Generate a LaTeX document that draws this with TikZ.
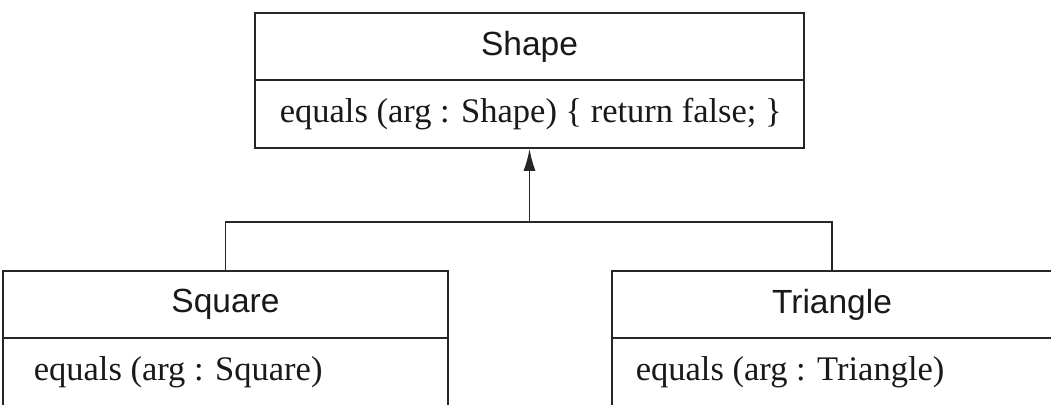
\documentclass[tikz,border=0pt]{standalone}
\usepackage{fontspec}
\setmainfont{Liberation Serif}
\setsansfont{Liberation Sans}
\usetikzlibrary{arrows.meta,positioning}
\begin{document}
\begin{tikzpicture}[x=1pt,y=-1pt,
  line width=1.6pt, draw=black!85,
  classhead/.style={draw=black!85, line width=1.6pt, rectangle, inner sep=0pt,
    font=\sffamily\fontsize{33.5}{36}\selectfont, text=black!90},
  classbody/.style={draw=black!85, line width=1.6pt, rectangle, inner sep=0pt,
    font=\rmfamily\fontsize{34.5}{38}\selectfont, text=black!90},
  methodtext/.style={anchor=west, inner sep=0pt,
    font=\rmfamily\fontsize{34.5}{38}\selectfont, text=black!90},
  inherit/.style={draw=black!85, line width=1.6pt, -{Latex[length=22pt,width=12pt]}},
  link/.style={draw=black!85, line width=1.6pt}]
\useasboundingbox (0,0) rectangle (1051,404);
\clip (0,0) rectangle (1051,404);
\fill[white] (0,0) rectangle (1051,404);
% Shape class
\node[classhead, minimum width=549pt, minimum height=67pt] (shape) at (529.5,46.5) {Shape};
\node[classbody, minimum width=549pt, minimum height=68pt] (shapebody) at (529.5,114) {};
\node[methodtext] (shapeop) at (279,114) {equals (arg : Shape) \{ return false; \}};
% Square class
\node[classhead, minimum width=445pt, minimum height=67pt] (square) at (225.5,304.5) {Square};
\node[classbody, minimum width=445pt, minimum height=68pt] (squarebody) at (225.5,372) {};
\node[methodtext] (squareop) at (33,372) {equals (arg : Square)};
% Triangle class
\node[classhead, minimum width=440pt, minimum height=67pt] (triangle) at (832,304.5) {Triangle};
\node[classbody, minimum width=440pt, minimum height=68pt] (trianglebody) at (832,372) {};
\node[methodtext] (triangleop) at (635,372) {equals (arg : Triangle)};
% generalization
\coordinate (junction) at (529.5,222);
\draw[link] (square.north) |- (junction) -| (triangle.north);
\draw[inherit] (junction) -- (shapebody.south);
\end{tikzpicture}
\end{document}
